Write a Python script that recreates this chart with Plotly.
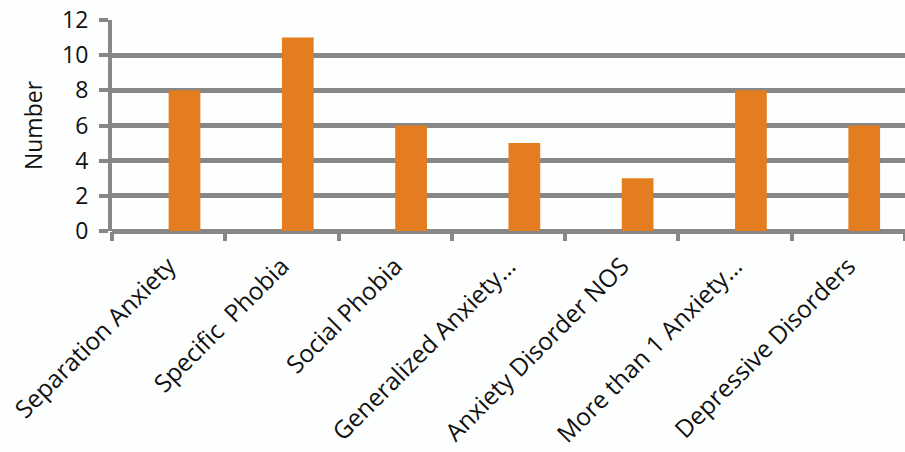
import plotly.graph_objects as go

# Diagnosis counts
categories = [
    "Separation Anxiety",
    "Specific\u00a0 Phobia",
    "Social Phobia",
    "Generalized Anxiety…",
    "Anxiety Disorder NOS",
    "More than 1 Anxiety…",
    "Depressive Disorders",
]
counts = [8, 11, 6, 5, 3, 8, 6]

GRID = "#878787"
BAR = "#E47D20"
FONT = "Open Sans, Liberation Sans, sans-serif"
TEXT = "#111111"

fig = go.Figure(
    go.Bar(
        x=categories,
        y=counts,
        marker=dict(color=BAR, line=dict(width=0)),
        width=0.28,
        offset=0,
    )
)

fig.update_layout(
    width=905,
    height=452,
    margin=dict(l=112, r=0, t=20, b=221),
    paper_bgcolor="#fdfefe",
    plot_bgcolor="#fdfefe",
    showlegend=False,
    font=dict(family=FONT, color=TEXT),
)

fig.update_xaxes(
    type="category",
    tickangle=-45,
    tickfont=dict(size=24.5, family=FONT, color=TEXT),
    ticklabelstandoff=15,
    showgrid=False,
    showline=False,
    ticks="outside",
    tickson="boundaries",
    ticklen=9,
    tickwidth=4,
    tickcolor=GRID,
    zeroline=False,
)

fig.update_yaxes(
    range=[0, 12],
    dtick=2,
    showgrid=True,
    gridcolor=GRID,
    gridwidth=4.5,
    zeroline=True,
    zerolinecolor=GRID,
    zerolinewidth=4.5,
    showline=True,
    linecolor=GRID,
    linewidth=4,
    ticks="outside",
    ticklen=9,
    tickwidth=4,
    tickcolor=GRID,
    ticklabelstandoff=6,
    tickfont=dict(size=23, family=FONT, color=TEXT),
    title=dict(text="Number", font=dict(size=23, family=FONT, color=TEXT), standoff=14),
)

fig.write_html("out.html")
